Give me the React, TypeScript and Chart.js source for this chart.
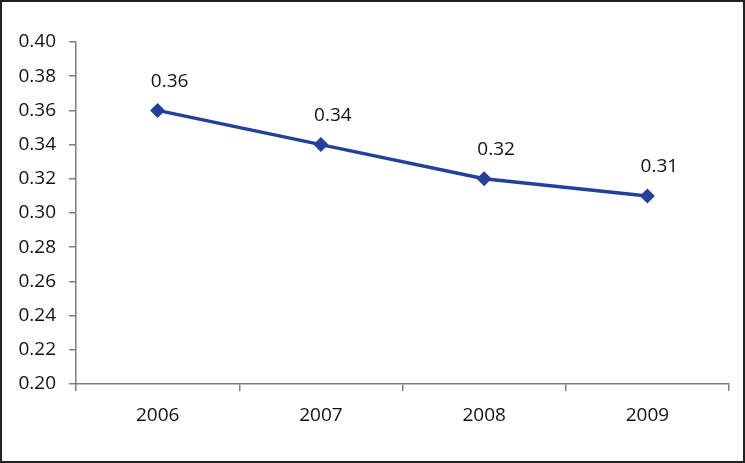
import React, { useEffect, useRef } from "react";
import { Chart, registerables } from "chart.js";

Chart.register(...registerables);

const years = ["2006", "2007", "2008", "2009"];
const values = [0.36, 0.34, 0.32, 0.31];
const yMin = 0.2;
const yMax = 0.4;
const yStep = 0.02;

const FONT = "'Open Sans', sans-serif";

const labelPlugin = {
  id: "pointLabels",
  afterDatasetsDraw(chart: any) {
    const ctx = chart.ctx;
    const meta = chart.getDatasetMeta(0);
    ctx.save();
    ctx.font = `19px ${FONT}`;
    ctx.fillStyle = "#111";
    ctx.textAlign = "center";
    ctx.textBaseline = "middle";
    meta.data.forEach((pt: any, i: number) => {
      ctx.fillText(values[i].toFixed(2), pt.x + 12, pt.y - 29);
    });
    ctx.restore();
  },
};

export default function App() {
  const ref = useRef<HTMLCanvasElement | null>(null);
  useEffect(() => {
    if (!ref.current) return;
    const chart = new Chart(ref.current, {
      type: "line",
      data: {
        labels: years,
        datasets: [
          {
            data: values,
            borderColor: "#24409A",
            backgroundColor: "#24409A",
            borderWidth: 3.5,
            pointStyle: "rectRot",
            pointRadius: 7.5,
            pointBorderWidth: 0,
            tension: 0,
          },
        ],
      },
      options: {
        animation: false,
        responsive: false,
        maintainAspectRatio: false,
        layout: { padding: { left: 0, top: 42, right: 16, bottom: 0 } },
        plugins: { legend: { display: false }, tooltip: { enabled: false } },
        scales: {
          x: {
            type: "category",
            offset: true,
            afterFit(scale: any) {
              scale.height = 79;
            },
            grid: {
              display: true,
              offset: true,
              drawOnChartArea: false,
              drawTicks: true,
              tickLength: 7,
              color: "#7a7f80",
              lineWidth: 1.5,
            },
            border: { display: true, color: "#7a7f80", width: 1.5 },
            ticks: {
              font: { family: FONT, size: 19 },
              color: "#111",
              padding: 13,
            },
          },
          y: {
            min: yMin,
            max: yMax,
            afterFit(scale: any) {
              scale.width = 76;
            },
            grid: {
              display: true,
              drawOnChartArea: false,
              drawTicks: true,
              tickLength: 7,
              color: "#7a7f80",
              lineWidth: 1.5,
            },
            border: { display: true, color: "#7a7f80", width: 1.5 },
            ticks: {
              stepSize: yStep,
              font: { family: FONT, size: 19 },
              color: "#111",
              padding: 13,
              callback: (v: any) => Number(v).toFixed(2),
            },
          },
        },
      },
      plugins: [labelPlugin],
    });
    return () => chart.destroy();
  }, []);
  return (
    <div
      style={{
        position: "fixed",
        left: 0,
        top: 0,
        width: 745,
        height: 463,
        background: "#fff",
      }}
    >
      <canvas ref={ref} width={745} height={463} style={{ display: "block" }} />
      <div
        style={{
          position: "absolute",
          left: 0,
          top: 0,
          width: 745,
          height: 463,
          boxSizing: "border-box",
          border: "2px solid #222",
          pointerEvents: "none",
        }}
      />
    </div>
  );
}
